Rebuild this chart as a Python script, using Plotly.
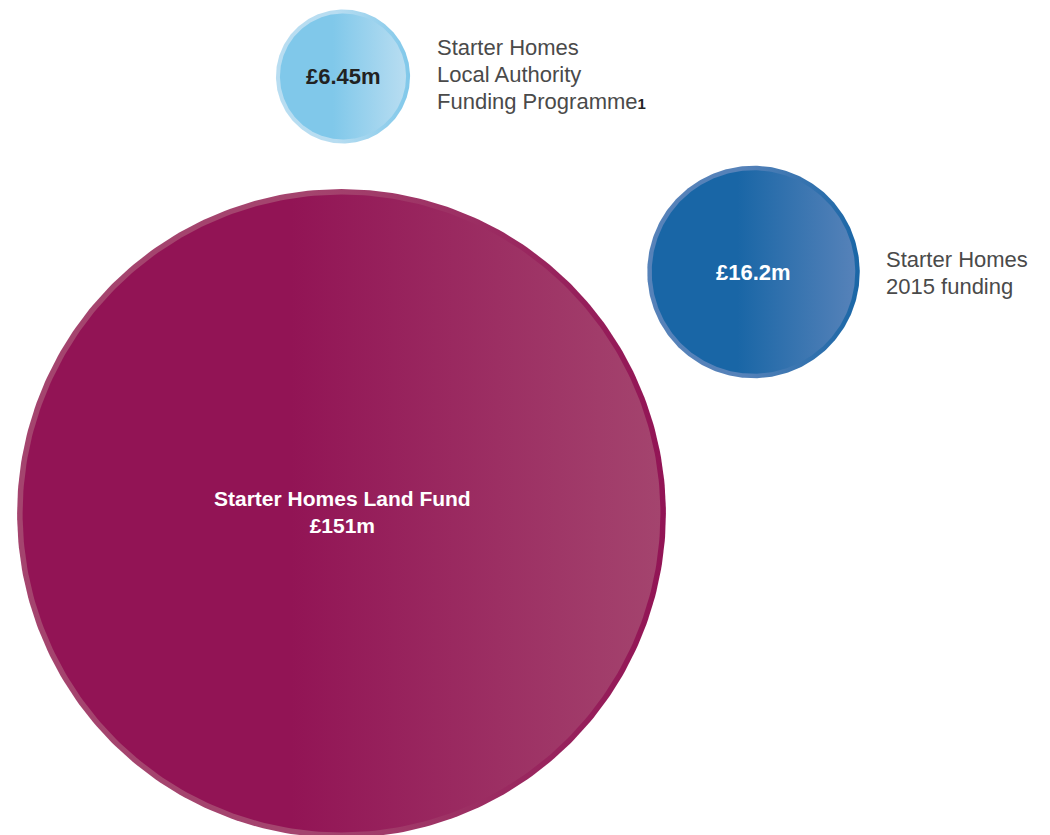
import numpy as np
import plotly.graph_objects as go

# Funding streams (in £ millions)
names = ["Starter Homes Land Fund", "Starter Homes 2015 funding",
         "Starter Homes Local Authority Funding Programme"]
values_m = [151, 16.2, 6.45]
value_labels = ["£151m", "£16.2m", "£6.45m"]
side_label_lines = {
    1: ["Starter Homes", "2015 funding"],
    2: ["Starter Homes", "Local Authority",
        "Funding Programme<span style='font-weight:bold;font-size:15px;color:#222'>1</span>"],
}

# Bubble styling / placement
centers = [(341.5, 513.5), (753.5, 272.0), (343.0, 76.5)]
fill_left = ["#921455", "#1966a6", "#80c8ea"]
fill_right = ["#a4446e", "#5682b9", "#b8ddf1"]
ring_width = [5.5, 4.5, 4.0]
side_label_pos = {1: (884, 259), 2: (435, 47)}
LINE_STEP = 27
PX_PER_SQRT = 26.4  # bubble radius in px per sqrt(£m): area ~ value

W, H = 1050, 835
theta = np.linspace(0, 2 * np.pi, 361)


def circle(cx, cy, r):
    return cx + r * np.cos(theta), cy + r * np.sin(theta)


fig = go.Figure()
for v, (cx, cy), cl, cr, rw in zip(values_m, centers, fill_left, fill_right, ring_width):
    r = PX_PER_SQRT * np.sqrt(v)
    # rim: light on the left, dark on the right
    xo, yo = circle(cx, cy, r)
    fig.add_trace(go.Scatter(
        x=xo, y=yo, mode="lines", line=dict(width=0), fill="toself",
        fillgradient=dict(type="horizontal",
                          colorscale=[[0, cr], [0.45, cr], [1, cl]]),
        hoverinfo="skip", showlegend=False))
    # body: dark on the left, light on the right
    xi, yi = circle(cx, cy, r - rw)
    fig.add_trace(go.Scatter(
        x=xi, y=yi, mode="lines", line=dict(width=0), fill="toself",
        fillgradient=dict(type="horizontal",
                          colorscale=[[0, cl], [0.42, cl], [1, cr]]),
        hoverinfo="skip", showlegend=False))

FONT = "Liberation Sans, Arial, sans-serif"

annotations = [
    dict(x=centers[0][0] + 1, y=centers[0][1] - 2,
         text=f"<b>{names[0]}</b><br><b>{value_labels[0]}</b>",
         font=dict(family=FONT, size=21, color="white"),
         xanchor="center", yanchor="middle", align="center"),
    dict(x=centers[1][0], y=centers[1][1],
         text=f"<b>{value_labels[1]}</b>",
         font=dict(family=FONT, size=22, color="white"),
         xanchor="center", yanchor="middle"),
    dict(x=centers[2][0], y=centers[2][1],
         text=f"<b>{value_labels[2]}</b>",
         font=dict(family=FONT, size=22, color="#222222"),
         xanchor="center", yanchor="middle"),
]
for idx, lines in side_label_lines.items():
    x0, y0 = side_label_pos[idx]
    for i, line in enumerate(lines):
        annotations.append(dict(
            x=x0, y=y0 + i * LINE_STEP, text=line,
            font=dict(family=FONT, size=22, color="#4a4a4a"),
            xanchor="left", yanchor="middle", align="left"))
for a in annotations:
    a.update(xref="x", yref="y", showarrow=False)

fig.update_layout(
    width=W, height=H,
    margin=dict(l=0, r=0, t=0, b=0),
    paper_bgcolor="white", plot_bgcolor="white",
    xaxis=dict(range=[0, W], visible=False, fixedrange=True),
    yaxis=dict(range=[H, 0], visible=False, fixedrange=True),
    annotations=annotations,
    showlegend=False,
)

fig.write_html("out.html")
